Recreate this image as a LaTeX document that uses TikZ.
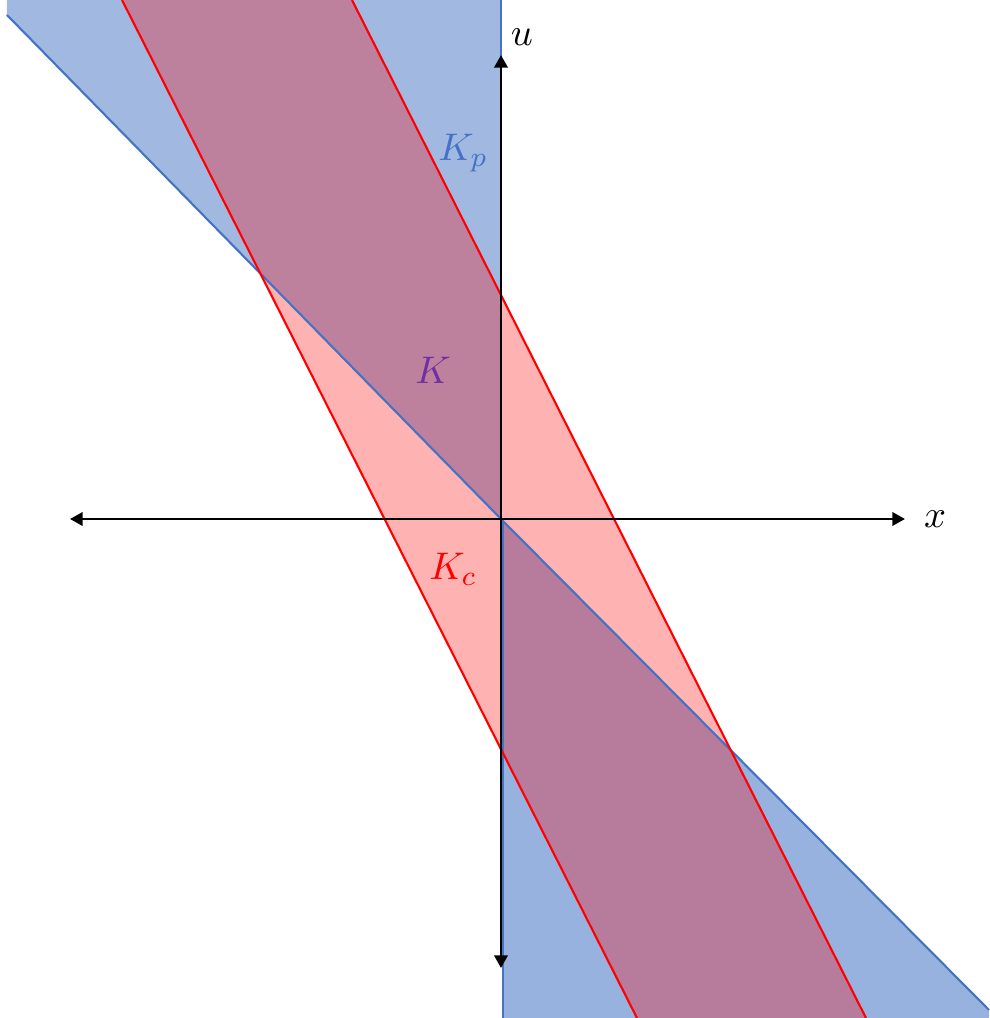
\documentclass[tikz,border=0pt]{standalone}
\usepackage{amsmath,amssymb}
\usetikzlibrary{arrows.meta}
\definecolor{conep}{RGB}{68,114,196}
\definecolor{conec}{RGB}{255,0,0}
\definecolor{setk}{RGB}{112,48,160}
\tikzset{
  axis/.style={line width=0.75pt,black,{Triangle[length=3.6pt,width=3.8pt]}-{Triangle[length=3.6pt,width=3.8pt]}},
  edgep/.style={line width=0.6pt,conep},
  edgec/.style={line width=0.6pt,conec},
  lbl/.style={font=\fontsize{11}{13}\selectfont,inner sep=1pt}
}

\begin{document}
\begin{tikzpicture}
  \useasboundingbox (-5.01,-4.99) rectangle (4.88,5.19);
  \coordinate (O) at (0,0);
  % cone K_p
  \fill[conep,opacity=0.5] (-4.94,5.19) -- (-4.94,5.04) -- (O) -- (0,5.19) -- cycle;
  \fill[conep,opacity=0.55] (O) -- (4.88,-4.91) -- (4.88,-4.99) -- (0.02,-4.99) -- (0.02,0) -- cycle;
  % band K_c
  \fill[conec,opacity=0.3] (-3.79,5.19) -- (-1.49,5.19) -- (3.65,-4.99) -- (1.36,-4.99) -- cycle;
  \draw[edgep] (-4.94,5.04) -- (O) -- (4.88,-4.91);
  \draw[edgep] (0,5.19) -- (O);
  \draw[edgep] (0.02,0) -- (0.02,-4.99);
  \draw[edgec] (-3.79,5.19) -- (1.36,-4.99);
  \draw[edgec] (-1.49,5.19) -- (3.65,-4.99);
  % axes
  \node[lbl,anchor=west] (xl) at (4.19,0) {$x$};
  \node[lbl] (ul) at (0.21,4.82) {$u$};
  \draw[axis] (-4.31,0) -- (4.04,0);
  \draw[axis] (0,-4.49) -- (0,4.64);
  % labels
  \node[lbl,text=conep] (kp) at (-0.38,3.66) {$K_p$};
  \node[lbl,text=setk] (k) at (-0.68,1.49) {$K$};
  \node[lbl,text=conec] (kc) at (-0.48,-0.50) {$K_c$};
\end{tikzpicture}
\end{document}
